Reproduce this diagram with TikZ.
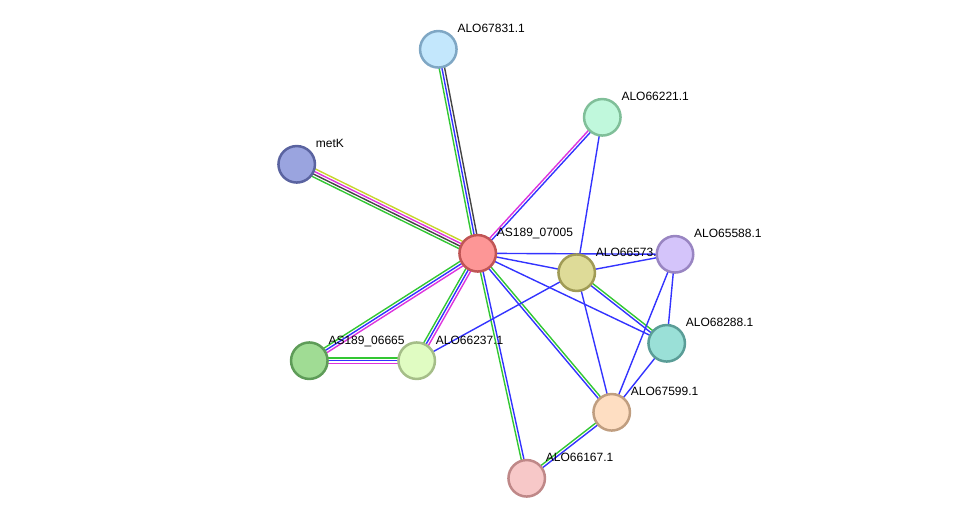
\documentclass[tikz,border=0pt]{standalone}
\usepackage{fontspec}
\setmainfont{Liberation Sans}
\usetikzlibrary{calc}
\definecolor{eg}{HTML}{33C733}
\definecolor{eb}{HTML}{3333FF}
\definecolor{em}{HTML}{DD33DD}
\definecolor{ek}{HTML}{444444}
\definecolor{ey}{HTML}{C8D42E}
\pgfdeclarelayer{edges}
\pgfdeclarelayer{labels}
\pgfsetlayers{edges,labels,main}
\tikzset{
  prot/.style={circle, minimum size=36.5pt, inner sep=0pt, line width=2.5pt},
  edgeline/.style={line width=1.4pt},
  lbl/.style={font=\fontsize{12}{14}\selectfont, anchor=base west, inner sep=0pt, text=black}
}
\newcommand{\multiedge}[3]{%
  \foreach \c [count=\i] in {#3} { \xdef\nlines{\i} }
  \foreach \c [count=\i] in {#3} {
    \pgfmathsetmacro\off{(\i-1-(\nlines-1)/2)*2.7}
    \draw[\c, edgeline] ($(#1)!\off pt!90:(#2)$) -- ($(#2)!\off pt!-90:(#1)$);
  }%
}
\begin{document}
\begin{tikzpicture}[x=1pt,y=-1pt]
\useasboundingbox (0,0) rectangle (976,524);
% nodes
\node[prot, fill={rgb,255:red,195;green,231;blue,252}, draw={rgb,255:red,127;green,167;blue,196}] (n67831) at (438.3,49.3) {};
\node[prot, fill={rgb,255:red,192;green,248;blue,220}, draw={rgb,255:red,128;green,191;blue,153}] (n66221) at (602.3,117.3) {};
\node[prot, fill={rgb,255:red,154;green,164;blue,223}, draw={rgb,255:red,90;green,99;blue,160}] (nmetK) at (296.7,164.3) {};
\node[prot, fill={rgb,255:red,253;green,150;blue,150}, draw={rgb,255:red,192;green,85;blue,85}] (n07005) at (477.7,253.3) {};
\node[prot, fill={rgb,255:red,222;green,219;blue,152}, draw={rgb,255:red,160;green,155;blue,85}] (n66573) at (576.7,272.7) {};
\node[prot, fill={rgb,255:red,212;green,196;blue,250}, draw={rgb,255:red,153;green,133;blue,194}] (n65588) at (675,254.3) {};
\node[prot, fill={rgb,255:red,154;green,224;blue,215}, draw={rgb,255:red,90;green,157;blue,151}] (n68288) at (666.7,343.3) {};
\node[prot, fill={rgb,255:red,160;green,220;blue,148}, draw={rgb,255:red,94;green,156;blue,88}] (n06665) at (309.3,360.7) {};
\node[prot, fill={rgb,255:red,224;green,252;blue,194}, draw={rgb,255:red,165;green,190;blue,136}] (n66237) at (416.7,360.7) {};
\node[prot, fill={rgb,255:red,254;green,222;blue,194}, draw={rgb,255:red,192;green,158;blue,128}] (n67599) at (611.7,412.3) {};
\node[prot, fill={rgb,255:red,247;green,200;blue,200}, draw={rgb,255:red,191;green,136;blue,136}] (n66167) at (526.7,478.3) {};
% edges
\begin{pgfonlayer}{edges}
\multiedge{n07005}{n67831}{ek,eb,eg}
\multiedge{n07005}{nmetK}{ey,em,ek,eg}
\multiedge{n07005}{n66221}{eb,em}
\multiedge{n07005}{n06665}{eg,eb,em}
\multiedge{n07005}{n66237}{eg,eb,em}
\multiedge{n06665}{n66237}{em,eb,eg}
\multiedge{n07005}{n66167}{eg,eb}
\multiedge{n07005}{n67599}{eb,eg}
\multiedge{n66573}{n68288}{eb,eg}
\multiedge{n67599}{n66167}{eg,eb}
\draw[eb, edgeline] (n07005.center) -- (n66573.center);
\draw[eb, edgeline] (n07005.center) -- (n68288.center);
\draw[eb, edgeline] (n07005.center) -- (n65588.center);
\draw[eb, edgeline] (n66221.center) -- (n66573.center);
\draw[eb, edgeline] (n66573.center) -- (n65588.center);
\draw[eb, edgeline] (n66573.center) -- (n67599.center);
\draw[eb, edgeline] (n66573.center) -- (n66237.center);
\draw[eb, edgeline] (n65588.center) -- (n68288.center);
\draw[eb, edgeline] (n65588.center) -- (n67599.center);
\draw[eb, edgeline] (n68288.center) -- (n67599.center);
\end{pgfonlayer}
% labels
\begin{pgfonlayer}{labels}
\node[lbl] (l67831) at ($(n67831)+(19,-16.5)$) {ALO67831.1};
\node[lbl] (l66221) at ($(n66221)+(19,-16.5)$) {ALO66221.1};
\node[lbl] (lmetK) at ($(nmetK)+(19,-16.5)$) {metK};
\node[lbl] (l07005) at ($(n07005)+(19,-16.5)$) {AS189\_07005};
\node[lbl] (l66573) at ($(n66573)+(19,-16.5)$) {ALO66573.1};
\node[lbl] (l65588) at ($(n65588)+(19,-16.5)$) {ALO65588.1};
\node[lbl] (l68288) at ($(n68288)+(19,-16.5)$) {ALO68288.1};
\node[lbl] (l06665) at ($(n06665)+(19,-16.5)$) {AS189\_06665};
\node[lbl] (l66237) at ($(n66237)+(19,-16.5)$) {ALO66237.1};
\node[lbl] (l67599) at ($(n67599)+(19,-16.5)$) {ALO67599.1};
\node[lbl] (l66167) at ($(n66167)+(19,-16.5)$) {ALO66167.1};
\end{pgfonlayer}
\end{tikzpicture}
\end{document}
